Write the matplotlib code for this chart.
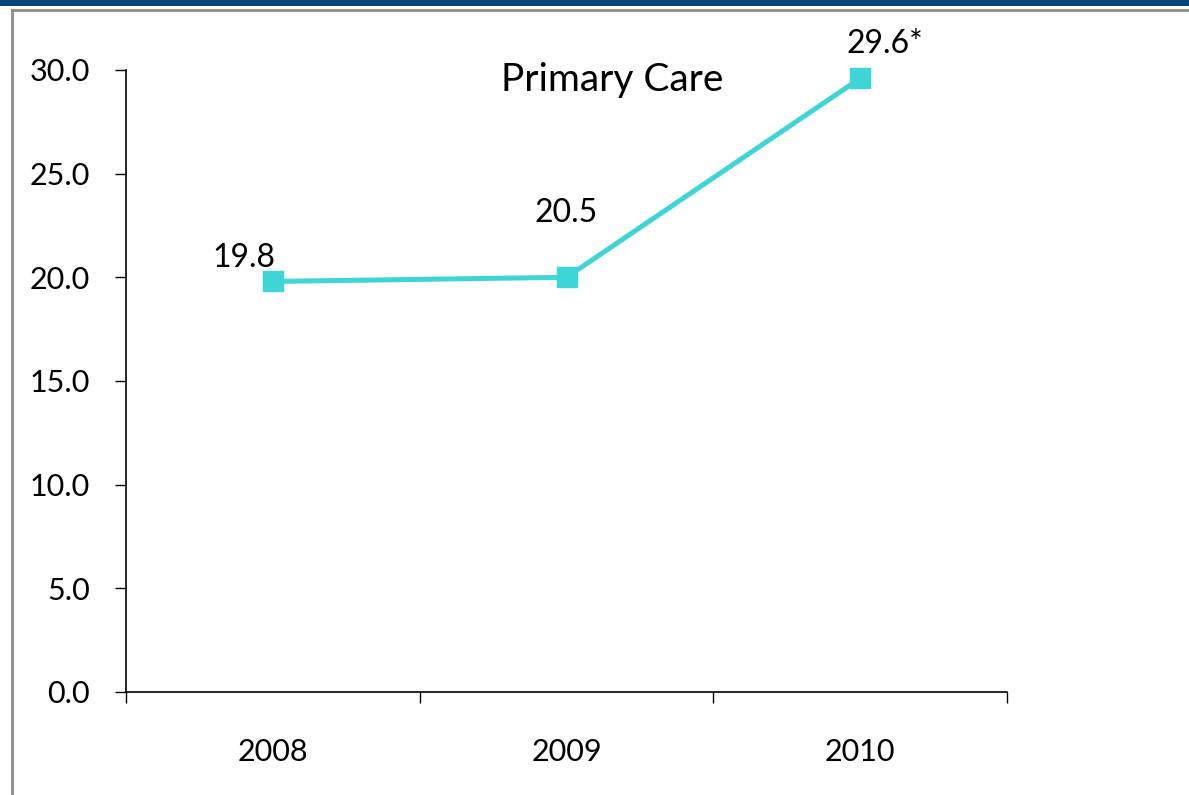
import matplotlib
matplotlib.use("Agg")
from matplotlib import pyplot as plt
from matplotlib.lines import Line2D
from matplotlib.patches import Rectangle

years = ["2008", "2009", "2010"]
values = [19.8, 20.0, 29.6]          # plotted positions
labels = ["19.8", "20.5", "29.6*"]   # printed data labels
title = "Primary Care"

plt.rcParams['font.family'] = ['Lato', 'DejaVu Sans']

fig = plt.figure(figsize=(11.89, 7.95), dpi=100)
ax = fig.add_axes([0.106, 0.1296, 0.741, 0.7824])

# slide header bar and grey frame
fig.add_artist(Rectangle((0, 1 - 6/795), 1, 6/795, transform=fig.transFigure,
                         color='#07457a', lw=0))
fig.add_artist(Line2D([12/1189, 1], [1 - 10/795] * 2, transform=fig.transFigure,
                      color='#8c8c8c', lw=2))
fig.add_artist(Line2D([12/1189] * 2, [0, 1 - 10/795], transform=fig.transFigure,
                      color='#8c8c8c', lw=2))

x = list(range(len(years)))
ax.plot(x, values, color='#3dd5d5', lw=3.6, marker='s', markersize=14,
        clip_on=False)

offsets = [(-21, 17), (0, 46), (18, 25)]
for xi, v, lbl, off in zip(x, values, labels, offsets):
    ax.annotate(lbl, (xi, v), xytext=off, textcoords='offset points',
                ha='center', va='center', fontsize=23)

ax.text(0.552, 0.984, title, transform=ax.transAxes, ha='center', va='center',
        fontsize=28)

ax.set_xlim(-0.5, 2.5)
ax.set_ylim(0, 30)
ax.set_yticks([0, 5, 10, 15, 20, 25, 30])
ax.set_yticklabels([f"{t:.1f}" for t in [0, 5, 10, 15, 20, 25, 30]])
ax.set_xticks([-0.5, 0.5, 1.5, 2.5])
ax.set_xticklabels([])
ax.set_xticks(x, minor=True)
ax.set_xticklabels(years, minor=True)

ax.tick_params(axis='y', direction='out', length=8, width=1, pad=18, labelsize=22)
ax.tick_params(axis='x', which='major', direction='out', length=8, width=1)
ax.tick_params(axis='x', which='minor', length=0, pad=33, labelsize=22)

for s in ['top', 'right']:
    ax.spines[s].set_visible(False)
for s in ['left', 'bottom']:
    ax.spines[s].set_linewidth(1.2)

fig.savefig('out.png', dpi=100)
